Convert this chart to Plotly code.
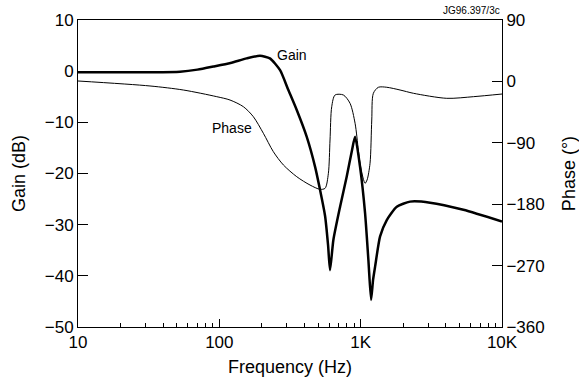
import plotly.graph_objects as go

# ---- data ----
gain_freq = [10, 20, 32.3, 52.7, 70, 90.7, 120, 156, 194, 228, 269, 308, 353, 415, 476, 516, 560, 588, 607,
             641, 715, 797, 869, 913, 990, 1074, 1134, 1185, 1224, 1265, 1372, 1530, 1801,
             2237, 3098, 5331, 10000]
gain_db = [-0.2, -0.2, -0.2, -0.1, 0.3, 0.9, 1.6, 2.5, 3.0, 2.5, 0.2, -3.7, -7.6, -12.8, -18.7, -23.2, -28.3, -34.0, -38.9,
           -33.0, -26.5, -20.6, -15.4, -12.8, -18.7, -27.7, -36.9, -44.7, -40.8, -38.2, -32.3, -29.1, -26.5,
           -25.5, -25.7, -27.1, -29.4]

phase_freq = [10, 32.3, 55.6, 95.9, 119, 148, 174, 205, 241, 284, 353, 438, 516, 560, 591, 607, 624, 659,
              754, 841, 913, 963, 990, 1040, 1074, 1110, 1165, 1198, 1230, 1335, 1530, 1900,
              2360, 4068, 6275, 10000]
phase_deg = [0.6, -6.7, -12.6, -22.4, -27.3, -37.1, -51.7, -76.1, -103.0, -122.5, -139.7, -151.9, -158.2, -156.7,
             -134.7, -85.9, -37.1, -19.9, -19.9, -32.1, -61.4, -100.6, -120.0, -141.6, -149.4,
             -144.5, -120.0, -56.6, -17.4, -8.6, -8.6, -12.6, -17.4, -24.8, -22.4, -18.5]

x_major = [10, 100, 1000, 10000]
x_major_text = ["10", "100", "1K", "10K"]
x_minor = [m * d for d in (10, 100, 1000) for m in range(2, 10)]
gain_ticks = [10, 0, -10, -20, -30, -40, -50]
phase_ticks = [90, 0, -90, -180, -270, -360]

FONT = "Arial, Liberation Sans, Helvetica, sans-serif"

fig = go.Figure()
fig.add_trace(go.Scatter(x=phase_freq, y=phase_deg, yaxis="y2", mode="lines",
                         line=dict(color="black", width=1, shape="spline", smoothing=0.8),
                         showlegend=False))
fig.add_trace(go.Scatter(x=gain_freq, y=gain_db, mode="lines",
                         line=dict(color="black", width=2.5, shape="spline", smoothing=0.6),
                         showlegend=False))

fig.update_layout(
    width=579, height=377,
    margin=dict(l=78, r=77, t=20, b=50, autoexpand=False),
    paper_bgcolor="white", plot_bgcolor="white",
    font=dict(family=FONT, size=17, color="black"),
    xaxis=dict(
        type="log", range=[1, 4], automargin=False,
        tickvals=x_major, ticktext=x_major_text,
        ticks="inside", ticklen=8, tickwidth=1, tickcolor="black",
        minor=dict(tickvals=x_minor, ticks="inside", ticklen=4, tickcolor="black", showgrid=False),
        showline=True, linecolor="black", linewidth=1, mirror=True,
        showgrid=False, zeroline=False,
        title=dict(text="Frequency (Hz)", standoff=14, font=dict(size=18)),
    ),
    yaxis=dict(
        range=[-50, 10], tickvals=gain_ticks, automargin=False,
        ticktext=["10", "0", "\u221210", "\u221220", "\u221230", "\u221240", "\u221250"],
        ticks="inside", ticklen=10, tickcolor="black",
        showline=True, linecolor="black", linewidth=1,
        showgrid=False, zeroline=False,
        title=dict(text="Gain (dB)", standoff=14, font=dict(size=18)),
    ),
    yaxis2=dict(
        range=[-360, 90], overlaying="y", side="right", tickvals=phase_ticks, automargin=False,
        ticktext=["90", "0", "\u221290", "\u2212180", "\u2212270", "\u2212360"],
        ticks="inside", ticklen=10, tickcolor="black",
        showline=True, linecolor="black", linewidth=1,
        showgrid=False, zeroline=False,
        title=dict(text="Phase (\u00b0)", standoff=18, font=dict(size=18)),
    ),
    annotations=[
        dict(x=2.512, y=3.2, xref="x", yref="y", text="Gain", showarrow=False,
             font=dict(size=14)),
        dict(x=2.088, y=-11.2, xref="x", yref="y", text="Phase", showarrow=False,
             font=dict(size=14)),
        dict(x=1.0, y=1.005, xref="paper", yref="paper", text="JG96.397/3c", showarrow=False,
             xanchor="right", yanchor="bottom", font=dict(size=10)),
    ],
)

fig.write_html("out.html")
